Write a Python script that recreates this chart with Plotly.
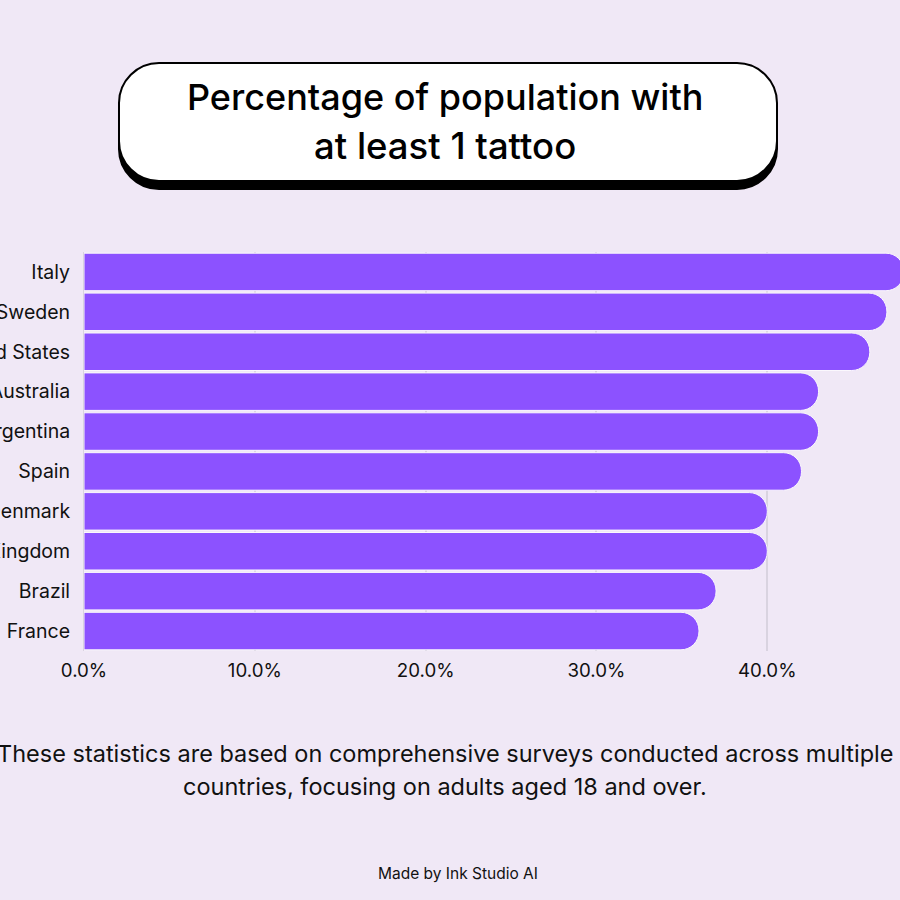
import plotly.graph_objects as go

# values
countries = ["Italy", "Sweden", "United States", "Australia", "Argentina",
             "Spain", "Denmark", "United Kingdom", "Brazil", "France"]
shares = [48, 47, 46, 43, 43, 42, 40, 40, 37, 36]
x_ticks = [0, 10, 20, 30, 40]
x_labels = ["0.0%", "10.0%", "20.0%", "30.0%", "40.0%"]

BG = "#f0e8f6"
BAR = "#8c52ff"
GRID = "#d9d3e0"
INK = "#111111"
SIZE = 900


def px_x(v):
    return v / SIZE


def px_y(v):
    return 1 - v / SIZE


def round_box(x0, y0, x1, y1, r):
    """Rounded rectangle as an svg path, in paper coordinates (input in page pixels)."""
    k = r * 0.45
    pts = [
        ("M", (x0 + r, y0)), ("L", (x1 - r, y0)),
        ("C", (x1 - k, y0), (x1, y0 + k), (x1, y0 + r)), ("L", (x1, y1 - r)),
        ("C", (x1, y1 - k), (x1 - k, y1), (x1 - r, y1)), ("L", (x0 + r, y1)),
        ("C", (x0 + k, y1), (x0, y1 - k), (x0, y1 - r)), ("L", (x0, y0 + r)),
        ("C", (x0, y0 + k), (x0 + k, y0), (x0 + r, y0)),
    ]
    out = ""
    for p in pts:
        out += p[0] + " ".join(f"{px_x(a):.5f},{px_y(b):.5f}" for a, b in p[1:]) + " "
    return out + "Z"


def add_text(fig, text, cx, cy, size, color=INK, **font):
    fig.add_annotation(text=text, x=px_x(cx), y=px_y(cy), xref="paper", yref="paper",
                       xanchor="center", yanchor="middle", showarrow=False,
                       font=dict(family="Inter", size=size, color=color, **font))


fig = go.Figure(go.Bar(
    y=countries, x=shares, orientation="h",
    marker=dict(color=BAR, cornerradius=18, line=dict(color="#fbf8fd", width=1)),
))

fig.add_shape(type="path", xref="paper", yref="paper", path=round_box(119, 71, 777, 189, 40),
              fillcolor="#000000", line=dict(color="#000000", width=2))
fig.add_shape(type="path", xref="paper", yref="paper", path=round_box(119, 63, 777, 181, 40),
              fillcolor="#ffffff", line=dict(color="#000000", width=2))

add_text(fig, "Percentage of population with", 445, 97, 36, color="#000000", weight=500)
add_text(fig, "at least 1 tattoo", 445, 146, 36.5, color="#000000", weight=500)
add_text(fig, "These statistics are based on comprehensive surveys conducted across multiple", 445.5, 753.5, 23.5)
add_text(fig, "countries, focusing on adults aged 18 and over.", 445, 786.5, 23.5)
add_text(fig, "Made by Ink Studio AI", 457.5, 873, 15.5)

fig.update_layout(
    width=SIZE, height=SIZE, autosize=False,
    margin=dict(l=0, r=0, t=0, b=0),
    paper_bgcolor=BG, plot_bgcolor=BG,
    bargap=0.06, showlegend=False,
    font=dict(family="Inter", size=18, color=INK),
    xaxis=dict(domain=[84 / SIZE, 1], range=[0, 47.77], automargin=False,
               tickmode="array", tickvals=x_ticks, ticktext=x_labels, tickfont=dict(size=18.7),
               showgrid=True, gridcolor=GRID, gridwidth=1.5, zeroline=False, showline=False,
               ticks="outside", ticklen=3, tickcolor=BG),
    yaxis=dict(domain=[px_y(651), px_y(252)], autorange="reversed", automargin=False,
               showgrid=False, zeroline=False, tickfont=dict(size=19.5),
               showline=True, linecolor=GRID, linewidth=1,
               ticks="outside", ticklen=9, tickcolor=BG),
)

fig.write_html("out.html", config={"displayModeBar": False},
               post_script="document.body.style.margin = '0';")
